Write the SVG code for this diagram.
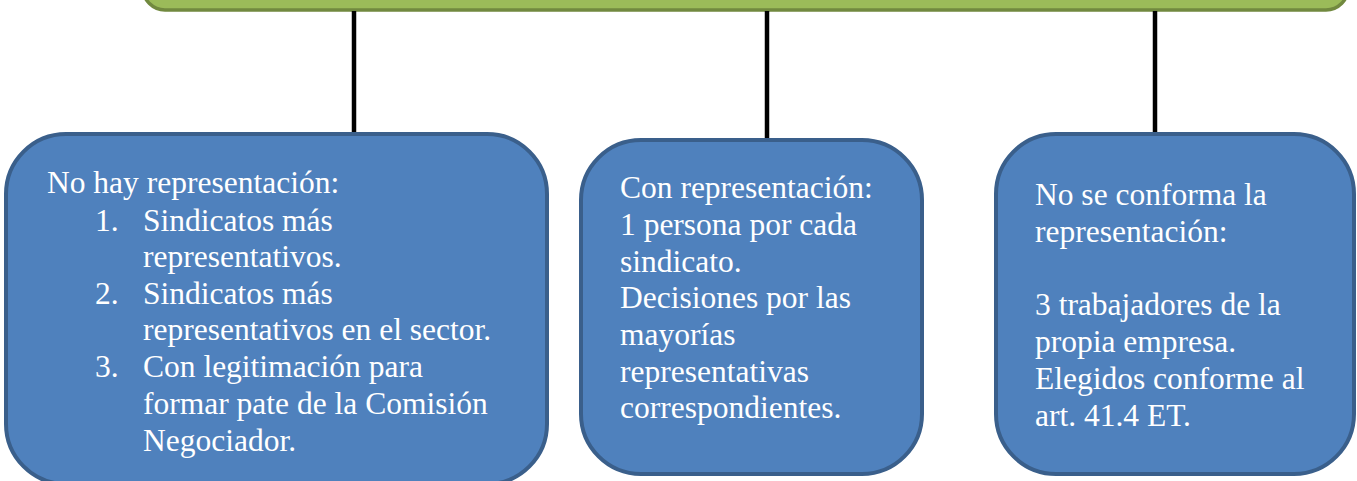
<svg xmlns="http://www.w3.org/2000/svg" width="1357" height="481" viewBox="0 0 1357 481">
<style>
.box{fill:#4F81BD;stroke:#3A5F8B;stroke-width:4}
.top{fill:#9BBB59;stroke:#71893F;stroke-width:3.5}
.conn{stroke:#000;stroke-width:4.5;fill:none}
.t{font-family:'Liberation Serif','Tinos','Times New Roman','DejaVu Serif',serif;font-size:31.5px;fill:#fff}
</style>
<rect width="1357" height="481" fill="#fff"/>
<g id="top-node"><rect class="top" x="143" y="-40" width="1205" height="50" rx="22"/></g>
<g id="connectors">
<line class="conn" x1="354" y1="11" x2="354" y2="133"/>
<line class="conn" x1="767" y1="11" x2="767" y2="139"/>
<line class="conn" x1="1155" y1="11" x2="1155" y2="133"/>
</g>
<g id="node-left" class="t">
<rect class="box" x="6" y="134" width="541" height="350" rx="60"/>
<text x="47" y="193">No hay representación:</text>
<text x="95" y="231">1.</text><text x="143" y="231">Sindicatos más</text>
<text x="143" y="267">representativos.</text>
<text x="95" y="304">2.</text><text x="143" y="304">Sindicatos más</text>
<text x="143" y="340">representativos en el sector.</text>
<text x="95" y="377">3.</text><text x="143" y="377">Con legitimación para</text>
<text x="143" y="414">formar pate de la Comisión</text>
<text x="143" y="451">Negociador.</text>
</g>
<g id="node-middle" class="t">
<rect class="box" x="581" y="140" width="341" height="334" rx="60"/>
<text x="620" y="198">Con representación:</text>
<text x="620" y="235">1 persona por cada</text>
<text x="620" y="272">sindicato.</text>
<text x="620" y="308">Decisiones por las</text>
<text x="620" y="345">mayorías</text>
<text x="620" y="382">representativas</text>
<text x="620" y="418">correspondientes.</text>
</g>
<g id="node-right" class="t">
<rect class="box" x="996" y="134" width="358" height="340" rx="60"/>
<text x="1035" y="205">No se conforma la</text>
<text x="1035" y="242">representación:</text>
<text x="1035" y="315">3 trabajadores de la</text>
<text x="1035" y="352">propia empresa.</text>
<text x="1035" y="389">Elegidos conforme al</text>
<text x="1035" y="426">art. 41.4 ET.</text>
</g>
</svg>
